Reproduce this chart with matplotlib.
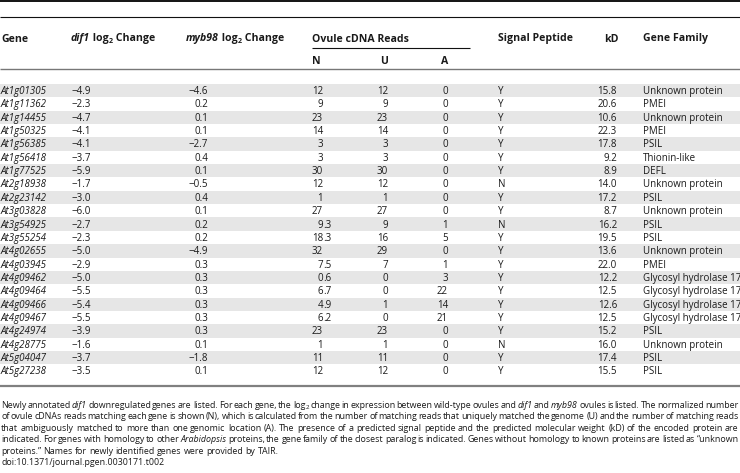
import matplotlib
matplotlib.use("Agg")
import matplotlib.pyplot as plt

genes = ["At1g01305", "At1g11362", "At1g14455", "At1g50325", "At1g56385", "At1g56418",
         "At1g77525", "At2g18938", "At2g23142", "At3g03828", "At3g54925", "At3g55254",
         "At4g02655", "At4g03945", "At4g09462", "At4g09464", "At4g09466", "At4g09467",
         "At4g24974", "At4g28775", "At5g04047", "At5g27238"]
dif1 = [-4.9, -2.3, -4.7, -4.1, -4.1, -3.7, -5.9, -1.7, -3.0, -6.0, -2.7, -2.3,
        -5.0, -2.9, -5.0, -5.5, -5.4, -5.5, -3.9, -1.6, -3.7, -3.5]
myb98 = [-4.6, 0.2, 0.1, 0.1, -2.7, 0.4, 0.1, -0.5, 0.4, 0.1, 0.2, 0.2,
         -4.9, 0.3, 0.3, 0.3, 0.3, 0.3, 0.3, 0.1, -1.8, 0.1]
n_reads = [12, 9, 23, 14, 3, 3, 30, 12, 1, 27, 9.3, 18.3, 32, 7.5, 0.6, 6.7, 4.9, 6.2, 23, 1, 11, 12]
u_reads = [12, 9, 23, 14, 3, 3, 30, 12, 1, 27, 9, 16, 29, 7, 0, 0, 1, 0, 23, 1, 11, 12]
a_reads = [0, 0, 0, 0, 0, 0, 0, 0, 0, 0, 1, 5, 0, 1, 3, 22, 14, 21, 0, 0, 0, 0]
signal = ["Y", "Y", "Y", "Y", "Y", "Y", "Y", "N", "Y", "Y", "N", "Y",
          "Y", "Y", "Y", "Y", "Y", "Y", "Y", "N", "Y", "Y"]
kd = [15.8, 20.6, 10.6, 22.3, 17.8, 9.2, 8.9, 14.0, 17.2, 8.7, 16.2, 19.5,
      13.6, 22.0, 12.2, 12.5, 12.6, 12.5, 15.2, 16.0, 17.4, 15.5]
family = ["Unknown protein", "PMEI", "Unknown protein", "PMEI", "PSIL", "Thionin-like",
          "DEFL", "Unknown protein", "PSIL", "Unknown protein", "PSIL", "PSIL",
          "Unknown protein", "PMEI", "Glycosyl hydrolase 17", "Glycosyl hydrolase 17",
          "Glycosyl hydrolase 17", "Glycosyl hydrolase 17", "PSIL", "Unknown protein",
          "PSIL", "PSIL"]

caption = [
    "Newly annotated *dif1* downregulated genes are listed. For each gene, the log_2 change in expression between wild-type ovules and *dif1* and *myb98* ovules is listed. The normalized number",
    "of ovule cDNAs reads matching each gene is shown (N), which is calculated from the number of matching reads that uniquely matched the genome (U) and the number of matching reads",
    "that ambiguously matched to more than one genomic location (A). The presence of a predicted signal peptide and the predicted molecular weight (kD) of the encoded protein are",
    "indicated. For genes with homology to other *Arabidopsis* proteins, the gene family of the closest paralog is indicated. Genes without homology to known proteins are listed as \u201cunknown",
    "proteins.\u201d Names for newly identified genes were provided by TAIR.",
    "doi:10.1371/journal.pgen.0030171.t002",
]

FONT = "Open Sans"
CAPFONT = ["Liberation Sans Narrow", "Open Sans"]
INK = "#1a1a1a"
BODY = 7.0
HEAD = 7.6

fig = plt.figure(figsize=(7.4, 4.73), dpi=100)
ax = fig.add_axes([0, 0, 1, 1])
ax.set_xlim(0, 740)
ax.set_ylim(473, 0)
ax.axis("off")
renderer = fig.canvas.get_renderer()


def text_w(s, **kw):
    t1 = ax.text(0, 0, "|" + s + "|", **kw)
    t2 = ax.text(0, 0, "||", **kw)
    w = t1.get_window_extent(renderer).width - t2.get_window_extent(renderer).width
    t1.remove()
    t2.remove()
    return w


def draw_parts(x, y, parts, base):
    for s, extra in parts:
        k = dict(base)
        k.update(extra)
        dy = k.pop("dy", 0)
        ax.text(x, y + dy, s, ha="left", va="baseline", **k)
        x += text_w(s, **k)
    return x


def parts_width(parts, base):
    w = 0
    for s, extra in parts:
        k = dict(base)
        k.update(extra)
        k.pop("dy", 0)
        w += text_w(s, **k)
    return w


def fmt(v):
    return ("%.1f" % v).replace("-", "\u2212")


# column x positions (pixels)
X_GENE, X_DIF, X_MYB = 1, 71, 208
X_N, X_U, X_A = 323, 388, 448
X_SIG, X_KD, X_FAM = 498, 617, 643

row0 = 90.5
pitch = 13.36
for i in range(len(genes)):
    yc = row0 + i * pitch
    if i % 2 == 0:
        ax.axhspan(yc - pitch / 2, yc + pitch / 2, color="#e6e6e6", lw=0, zorder=0)
    yb = yc + 3.4
    body = dict(family=FONT, size=BODY, color=INK, va="baseline")
    ax.text(X_GENE, yb, genes[i], style="italic", ha="left", **body)
    ax.text(X_DIF, yb, fmt(dif1[i]), ha="left", **body)
    ax.text(X_MYB, yb, fmt(myb98[i]), ha="right", **body)
    ns = ("%g" % n_reads[i]).split(".")
    ax.text(X_N, yb, ns[0], ha="right", **body)
    if len(ns) > 1:
        ax.text(X_N, yb, "." + ns[1], ha="left", **body)
    ax.text(X_U, yb, str(u_reads[i]), ha="right", **body)
    ax.text(X_A, yb, str(a_reads[i]), ha="right", **body)
    ax.text(X_SIG, yb, signal[i], ha="left", **body)
    ax.text(X_KD, yb, "%.1f" % kd[i], ha="right", **body)
    ax.text(X_FAM, yb, family[i], ha="left", **body)

# header
hb = dict(family=FONT, size=HEAD, weight="bold", color=INK)
sub = dict(size=HEAD * 0.68, dy=1.8)
y1 = 41.5
ax.text(1, y1, "Gene", ha="left", va="baseline", **hb)
draw_parts(X_DIF, y1, [("dif1", dict(style="italic")), (" log", {}), ("2", sub), (" Change", {})], hb)
draw_parts(186, y1, [("myb98", dict(style="italic")), (" log", {}), ("2", sub), (" Change", {})], hb)
ax.text(312, y1, "Ovule cDNA Reads", ha="left", va="baseline", **hb)
ax.text(X_SIG, y1, "Signal Peptide", ha="left", va="baseline", **hb)
ax.text(X_KD - 13, y1, "kD", ha="left", va="baseline", **hb)
ax.text(X_FAM, y1, "Gene Family", ha="left", va="baseline", **hb)
y2 = 63.8
ax.text(312, y2, "N", ha="left", va="baseline", **hb)
ax.text(X_U - 8, y2, "U", ha="left", va="baseline", **hb)
ax.text(X_A - 7, y2, "A", ha="left", va="baseline", **hb)

# rules
ax.hlines(0.8, 0, 740, color="#000000", lw=1.3)
ax.hlines(17, 0, 740, color="#111111", lw=0.8)
ax.hlines(48, 312, 470, color="#111111", lw=0.8)
ax.hlines(69, 0, 740, color="#777777", lw=1.0)
ax.hlines(386, 0, 740, color="#808080", lw=1.6)


# caption, justified
def word_parts(w, size):
    if w.startswith("*") and w.endswith("*"):
        return [(w.strip("*"), dict(style="italic"))]
    if w == "log_2":
        return [("log", {}), ("2", dict(size=size * 0.7, dy=1.5))]
    return [(w, {})]


def tight_width(line, base):
    # words plus half-width spaces
    words = [word_parts(w, base["size"]) for w in line.split(" ")]
    sp = text_w(" ", **base)
    return sum(parts_width(p, base) for p in words) + 0.55 * sp * (len(words) - 1)


X0, X1 = 1, 738.5
size = 6.8
probe = dict(family=CAPFONT, size=size, color=INK)
widest = max(tight_width(l, probe) for l in caption[:4])
if widest > (X1 - X0):
    size = size * (X1 - X0) / widest
cap = dict(family=CAPFONT, size=size, color=INK)

cap_y = [404.5, 416, 427.5, 439, 450.5, 462]
space = text_w(" ", **cap)
for j, line in enumerate(caption):
    words = [word_parts(w, size) for w in line.split(" ")]
    widths = [parts_width(p, cap) for p in words]
    if j < 4:
        gap = (X1 - X0 - sum(widths)) / (len(words) - 1)
    else:
        gap = space
    x = X0
    yb = cap_y[j] + 3
    for p, w in zip(words, widths):
        draw_parts(x, yb, p, cap)
        x += w + gap

fig.savefig("out.png", dpi=100)
